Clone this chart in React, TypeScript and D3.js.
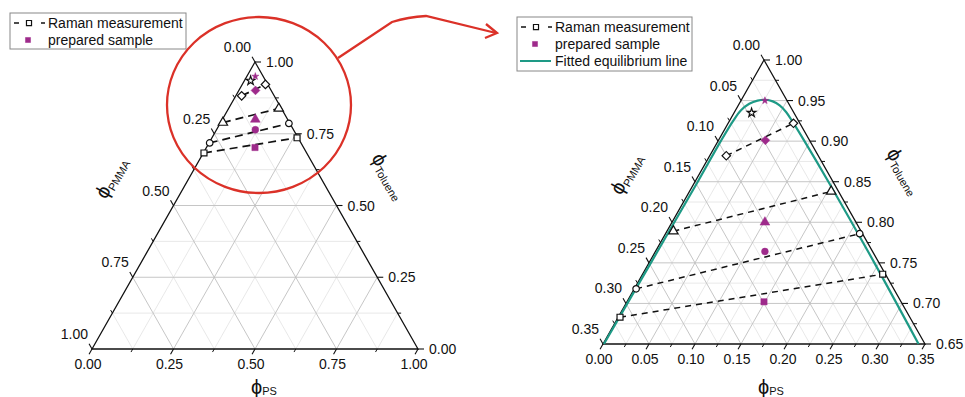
import React from 'react';
import * as d3 from 'd3';

const W = 965;
const H = 397;

// Raman measurement: coexisting phases on each tie line, [PS, PMMA]
const tieShapes = ['diamond', 'triangle', 'circle', 'square'];
const tiePmmaRichPS = [0.018, 0.007, 0.002, 0.002];
const tiePmmaRichPMMA = [0.100, 0.204, 0.280, 0.315];
const tiePsRichPS = [0.071, 0.154, 0.211, 0.261];
const tiePsRichPMMA = [0.007, 0.008, 0.003, 0.003];

// Raman measurement with a single phase (star)
const singlePS = [0.019];
const singlePMMA = [0.046];

// prepared samples
const sampleShapes = ['star', 'diamond', 'triangle', 'circle', 'square'];
const samplePS = [0.026, 0.051, 0.101, 0.119, 0.149];
const samplePMMA = [0.024, 0.048, 0.099, 0.117, 0.149];

// fitted equilibrium line (binodal)
const fitPS = [0.001, 0.002, 0.003, 0.003, 0.004, 0.006, 0.011, 0.018, 0.026, 0.035, 0.045, 0.056, 0.069, 0.094, 0.145, 0.245, 0.343];
const fitPMMA = [0.349, 0.248, 0.147, 0.097, 0.071, 0.056, 0.043, 0.032, 0.023, 0.016, 0.011, 0.008, 0.007, 0.006, 0.005, 0.005, 0.007];

// axis ticks
const fullMajor = [0, 0.25, 0.5, 0.75, 1];
const fullMinor = [0.125, 0.375, 0.625, 0.875];
const zoomMajor = [0, 0.05, 0.1, 0.15, 0.2, 0.25, 0.3, 0.35];
const zoomMinor = [0.025, 0.075, 0.125, 0.175, 0.225, 0.275, 0.325];

const PURPLE = '#9e2a8b';
const TEAL = '#1e9a86';
const RED = '#db3128';
const FONT = 'Liberation Sans, Arial, sans-serif';

const panels = [
  {
    bl: [92, 349], br: [418, 349], ap: [255, 62], range: 1,
    major: fullMajor, minor: fullMinor, showFit: false, dash: '8,5', dashW: 1.7,
    pmmaTitle: [106, 200], tolTitle: [371, 158], psTitle: [251, 394],
  },
  {
    bl: [603, 344], br: [925, 344], ap: [764, 60], range: 0.35,
    major: zoomMajor, minor: zoomMinor, showFit: true, dash: '6,5', dashW: 1.5,
    pmmaTitle: [621, 196], tolTitle: [886, 153], psTitle: [758, 394],
  },
];

const fmt = d3.format('.2f');

function symbolPath(shape, size) {
  if (shape === 'circle') return d3.symbol(d3.symbolCircle, size * 0.8)();
  if (shape === 'triangle') return d3.symbol(d3.symbolTriangle, size * 0.9)();
  if (shape === 'star') return d3.symbol(d3.symbolStar, size)();
  return d3.symbol(d3.symbolSquare, size * 0.85)();
}

function Marker({ x, y, shape, filled, size = 42 }) {
  const rot = shape === 'diamond' ? 45 : 0;
  return (
    <path
      d={symbolPath(shape, size)}
      transform={`translate(${x},${y}) rotate(${rot})`}
      fill={filled ? PURPLE : 'white'}
      stroke={filled ? PURPLE : '#111'}
      strokeWidth={filled ? 0.5 : 1.2}
    />
  );
}

function Ternary({ cfg }) {
  const { bl, br, ap, range, major, minor } = cfg;
  const u = d3.scaleLinear().domain([0, range]).range([0, 1]);
  const v = d3.scaleLinear().domain([1 - range, 1]).range([0, 1]);
  const pos = (ps, pmma) => {
    const a = u(ps);
    const b = v(1 - ps - pmma);
    return [bl[0] + a * (br[0] - bl[0]) + b * (ap[0] - bl[0]), bl[1] + a * (br[1] - bl[1]) + b * (ap[1] - bl[1])];
  };
  const norm = (p, q) => {
    const dx = q[0] - p[0], dy = q[1] - p[1];
    const l = Math.hypot(dx, dy);
    return [dx / l, dy / l];
  };
  const dirL = norm(br, ap);
  const dirB = norm(ap, bl);
  const dirR = norm(bl, br);

  const inner = (vals) => vals.filter(d => d > 1e-9 && d < range - 1e-9);
  const gridLines = (vals) => {
    const out = [];
    inner(vals).forEach(d => {
      out.push([pos(d, range - d), pos(d, 0)]);
      out.push([pos(range - d, d), pos(0, d)]);
      out.push([pos(0, d), pos(d, 0)]);
    });
    return out;
  };

  const line = d3.line().curve(d3.curveCatmullRom.alpha(0.5));
  const fitPts = fitPS.map((p, i) => pos(p, fitPMMA[i]));

  const tick = (p, dir, len) => (
    `M${p[0]},${p[1]}L${p[0] + dir[0] * len},${p[1] + dir[1] * len}`
  );

  return (
    <g>
      {gridLines(minor).map((l, i) => (
        <line key={'mi' + i} x1={l[0][0]} y1={l[0][1]} x2={l[1][0]} y2={l[1][1]} stroke="#e2e2e2" strokeWidth={0.8} />
      ))}
      {gridLines(major).map((l, i) => (
        <line key={'ma' + i} x1={l[0][0]} y1={l[0][1]} x2={l[1][0]} y2={l[1][1]} stroke="#c0c0c0" strokeWidth={0.9} />
      ))}
      <path d={`M${bl[0]},${bl[1]}L${br[0]},${br[1]}L${ap[0]},${ap[1]}Z`} fill="none" stroke="#111" strokeWidth={1.3} />

      {/* ticks */}
      {major.map((d, i) => (
        <g key={'t' + i} stroke="#111" strokeWidth={1.1}>
          <path d={tick(pos(0, d), dirL, 6)} />
          <path d={tick(pos(d, range - d), dirB, 6)} />
          <path d={tick(pos(d, 0), dirR, 6)} />
        </g>
      ))}
      {minor.map((d, i) => (
        <g key={'tm' + i} stroke="#111" strokeWidth={1}>
          <path d={tick(pos(0, d), dirL, 3.5)} />
          <path d={tick(pos(d, range - d), dirB, 3.5)} />
          <path d={tick(pos(d, 0), dirR, 3.5)} />
        </g>
      ))}

      {/* tick labels */}
      <g fontFamily={FONT} fontSize={14} fill="#111">
        {major.map((d, i) => {
          const pl = pos(0, d);
          const pb = pos(d, range - d);
          const pr = pos(d, 0);
          return (
            <g key={'l' + i}>
              <text x={pl[0] - 4} y={pl[1] - 10} textAnchor="end">{fmt(d)}</text>
              <text x={pb[0] - 4} y={pb[1] + 20} textAnchor="middle">{fmt(d)}</text>
              <text x={pr[0] + 11} y={pr[1] + 5} textAnchor="start">{fmt(1 - d)}</text>
            </g>
          );
        })}
      </g>

      {/* axis titles */}
      <g fontFamily={FONT} fill="#111">
        <text transform={`translate(${cfg.pmmaTitle[0]},${cfg.pmmaTitle[1]}) rotate(-60)`} fontSize={20}>
          ϕ<tspan fontSize={11} dy={3}>PMMA</tspan>
        </text>
        <text transform={`translate(${cfg.tolTitle[0]},${cfg.tolTitle[1]}) rotate(60)`} fontSize={20}>
          ϕ<tspan fontSize={11} dy={3}>Toluene</tspan>
        </text>
        <text x={cfg.psTitle[0]} y={cfg.psTitle[1]} fontSize={20}>
          ϕ<tspan fontSize={11} dy={1}>PS</tspan>
        </text>
      </g>

      {cfg.showFit && (
        <path d={line(fitPts)} fill="none" stroke={TEAL} strokeWidth={2.2} />
      )}

      {/* tie lines */}
      {tieShapes.map((s, i) => {
        const a = pos(tiePmmaRichPS[i], tiePmmaRichPMMA[i]);
        const b = pos(tiePsRichPS[i], tiePsRichPMMA[i]);
        return <line key={'tl' + i} x1={a[0]} y1={a[1]} x2={b[0]} y2={b[1]} stroke="#111" strokeWidth={cfg.dashW} strokeDasharray={cfg.dash} />;
      })}
      {tieShapes.map((s, i) => {
        const a = pos(tiePmmaRichPS[i], tiePmmaRichPMMA[i]);
        const b = pos(tiePsRichPS[i], tiePsRichPMMA[i]);
        return (
          <g key={'tm' + i}>
            <Marker x={a[0]} y={a[1]} shape={s} />
            <Marker x={b[0]} y={b[1]} shape={s} />
          </g>
        );
      })}
      {singlePS.map((p, i) => {
        const a = pos(p, singlePMMA[i]);
        return <Marker key={'s' + i} x={a[0]} y={a[1]} shape="star" size={24} />;
      })}
      {sampleShapes.map((s, i) => {
        const a = pos(samplePS[i], samplePMMA[i]);
        return <Marker key={'p' + i} x={a[0]} y={a[1]} shape={s} filled size={s === 'star' ? 16 : 46} />;
      })}
    </g>
  );
}

function Legend({ x, y, w, h, withFit }) {
  return (
    <g fontFamily={FONT} fontSize={14} fill="#111">
      <rect x={x} y={y} width={w} height={h} fill="white" stroke="#888" strokeWidth={1} />
      <g stroke="#111" strokeWidth={1.5}>
        <line x1={x + 4} y1={y + 10} x2={x + 9} y2={y + 10} />
        <line x1={x + 31} y1={y + 10} x2={x + 35} y2={y + 10} />
      </g>
      <Marker x={x + 19} y={y + 10} shape="square" size={30} />
      <text x={x + 38} y={y + 15}>Raman measurement</text>
      <Marker x={x + 18} y={y + 27} shape="square" filled size={30} />
      <text x={x + 38} y={y + 32}>prepared sample</text>
      {withFit && (
        <g>
          <line x1={x + 3} y1={y + 44} x2={x + 34} y2={y + 44} stroke={TEAL} strokeWidth={2} />
          <text x={x + 38} y={y + 49}>Fitted equilibrium line</text>
        </g>
      )}
    </g>
  );
}

export default function App() {
  return (
    <svg width={W} height={H} style={{ position: 'absolute', left: 0, top: 0, background: 'white' }}>
      <rect width={W} height={H} fill="white" />
      {panels.map((p, i) => <Ternary key={i} cfg={p} />)}
      <Legend x={10} y={13} w={176} h={36} withFit={false} />
      <Legend x={517} y={17} w={175} h={54} withFit />

      {/* zoom annotation */}
      <ellipse cx={259} cy={105} rx={92} ry={88} fill="none" stroke={RED} strokeWidth={2.3} />
      <path d="M338,58 L392,22 Q408,17 426,16 L496,33" fill="none" stroke={RED} strokeWidth={2.3} />
      <path d="M486,24 L497,33 L485,38" fill="none" stroke={RED} strokeWidth={2.3} />
    </svg>
  );
}
